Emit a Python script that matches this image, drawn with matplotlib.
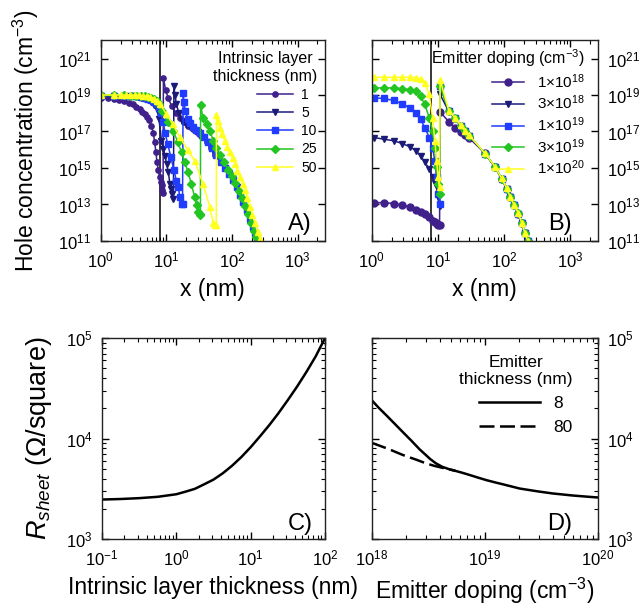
import numpy as np
import matplotlib
matplotlib.use("Agg")
import matplotlib.pyplot as plt
from matplotlib.ticker import FixedLocator, NullLocator, NullFormatter, FuncFormatter

plt.rcParams['font.family'] = ['Liberation Sans', 'DejaVu Sans']
plt.rcParams['mathtext.fontset'] = 'custom'
plt.rcParams['mathtext.rm'] = 'Liberation Sans'
plt.rcParams['mathtext.it'] = 'Liberation Sans:italic'
plt.rcParams['mathtext.bf'] = 'Liberation Sans:bold'

# ---- panel A: hole profile vs intrinsic layer thickness (log10 of cm^-3) ----
a_labels = ['1', '5', '10', '25', '50']
a1_x = [1.0, 1.3, 1.58, 1.9, 2.24, 2.65, 3.1, 3.5, 3.9, 4.3, 4.7, 5.1, 5.5, 5.9, 6.3, 6.6, 6.9, 7.2, 7.5, 7.9,
        8.2, 8.45, 8.7, 8.9, 9.0, 9.7, 10.6, 12.0, 14.0, 16.0, 18.5, 21.5, 25, 29, 34, 41, 48, 56, 67, 78,
        91, 105, 118, 132, 149, 168, 188, 207, 224, 244]
a1_logp = [18.85, 18.82, 18.78, 18.73, 18.66, 18.58, 18.48, 18.36, 18.21, 18.08, 17.94, 17.78, 17.61, 17.3, 16.94,
           16.45, 15.9, 15.3, 14.9, 14.5, 14.25, 14.05, 13.8, 13.63, 19.93, 19.3, 18.85, 18.4, 18.0, 17.75,
           17.5, 17.32, 17.15, 16.98, 16.75, 16.45, 16.1, 15.7, 15.31, 15.0, 14.68, 14.32, 13.95, 13.5, 13.14,
           12.68, 12.23, 11.78, 11.42, 11.05]
a5_x = [1.0, 1.58, 2.24, 2.9, 3.5, 4.1, 4.7, 5.3, 5.9, 6.5, 7.1, 7.7, 8.4, 9.0, 9.5, 10.1, 10.7, 11.3, 11.8, 12.3,
        12.8, 13.0, 13.5, 14.2, 15.5, 17.5, 20, 23, 26.5, 30, 35, 41, 48, 56, 67, 78, 91, 105, 118, 132,
        149, 168, 188, 207, 224, 244]
a5_logp = [18.95, 18.95, 18.94, 18.92, 18.9, 18.86, 18.8, 18.72, 18.62, 18.45, 18.25, 17.7, 16.5, 16.05, 15.67,
           15.2, 14.77, 14.14, 13.85, 13.6, 13.3, 19.48, 19.0, 18.5, 18.0, 17.6, 17.4, 17.22, 17.08, 16.95,
           16.72, 16.45, 16.1, 15.7, 15.31, 15.0, 14.68, 14.32, 13.95, 13.5, 13.14, 12.68, 12.23, 11.78, 11.42, 11.05]
a10_x = [1.0, 1.58, 2.24, 2.9, 3.5, 4.1, 4.7, 5.3, 5.9, 6.5, 7.1, 7.7, 8.3, 9.0, 9.5, 10.5, 11.7, 13.0, 14.2, 15.2,
         16.0, 17.0, 17.6, 18.0, 18.6, 19.5, 21, 23, 25.5, 28.5, 32, 37, 43, 50, 58, 67, 78, 91, 105, 118,
         132, 149, 168, 188, 207, 224, 244]
a10_logp = [18.97, 18.97, 18.96, 18.95, 18.93, 18.9, 18.86, 18.8, 18.72, 18.62, 18.48, 18.3, 18.0, 17.5, 16.94,
            16.3, 15.6, 14.9, 14.3, 13.95, 13.41, 13.05, 13.0, 19.1, 18.6, 18.1, 17.7, 17.45, 17.25, 17.08,
            16.92, 16.7, 16.42, 16.1, 15.72, 15.31, 15.0, 14.68, 14.32, 13.95, 13.5, 13.14, 12.68, 12.23, 11.78,
            11.42, 11.05]
a25_x = [1.0, 1.58, 2.24, 2.9, 3.5, 4.1, 4.7, 5.3, 5.9, 6.5, 7.1, 7.7, 8.6, 10.5, 12.7, 15, 17, 19, 21.5, 24,
         27, 28.8, 30.6, 32, 33, 33.2, 36, 41, 46, 52, 58, 66, 76, 88, 100, 113, 127, 142, 158, 176,
         196, 216, 236, 256]
a25_logp = [18.98, 18.98, 18.98, 18.97, 18.96, 18.95, 18.93, 18.9, 18.85, 18.78, 18.68, 18.5, 18.1, 17.5, 17.03,
            16.4, 15.85, 15.3, 14.77, 14.1, 13.41, 12.96, 12.6, 12.45, 12.41, 18.45, 17.76, 17.4, 17.03, 16.49,
            16.12, 15.7, 15.3, 14.9, 14.55, 14.15, 13.75, 13.35, 12.9, 12.45, 12.0, 11.55, 11.2, 10.95]
a50_x = [1.0, 1.58, 2.0, 2.4, 2.8, 3.3, 3.8, 4.4, 5.0, 5.7, 6.5, 7.3, 8.0, 10, 12.5, 16, 21, 27, 36, 46,
         52, 56, 57.5, 58, 61, 65, 70, 78, 85, 93, 102, 111, 121, 132, 145, 158, 172, 188, 205, 224,
         245, 267]
a50_logp = [19.0, 19.0, 19.0, 19.0, 19.0, 18.99, 18.98, 18.96, 18.93, 18.88, 18.8, 18.68, 18.5, 17.95, 17.4,
            16.7, 16.0, 15.4, 14.14, 12.86, 11.96, 11.88, 11.85, 17.89, 17.55, 17.21, 16.85, 16.49, 16.15, 15.85,
            15.52, 15.22, 14.85, 14.5, 14.12, 13.77, 13.35, 12.86, 12.42, 11.96, 11.5, 11.09]

# ---- panel B: hole profile vs emitter doping ----
b_labels = [r'1$\times$10$^{18}$', r'3$\times$10$^{18}$', r'1$\times$10$^{19}$',
            r'3$\times$10$^{19}$', r'1$\times$10$^{20}$']
b_x = [1.07, 1.52, 2.15, 2.9, 3.77, 4.64, 5.46, 6.35, 7.4, 8.3, 9.0, 9.55, 10.1, 10.6,
       10.8, 14.6, 18.1, 22.2, 25.6, 29.8, 51.5, 73, 92, 110, 123, 141, 165, 185, 206, 228]
b1_logp = [13.1, 13.1, 13.05, 12.96, 12.86, 12.72, 12.59, 12.47, 12.29, 12.12, 12.05, 11.95, 11.87, 11.85,
           18.07, 17.54, 17.21, 16.98, 16.8, 16.64, 15.8, 15.05, 14.41, 13.86, 13.41, 12.96, 12.5, 11.96, 11.42, 11.0]
b3_logp = [16.67, 16.58, 16.49, 16.34, 16.16, 15.95, 15.67, 15.31, 14.95, 14.5, 14.2, 13.95, 13.4, 12.9,
           19.03, 18.1, 17.7, 17.3, 17.0, 16.75, 15.78, 15.05, 14.41, 13.86, 13.41, 12.96, 12.5, 11.96, 11.42, 11.0]
b10_logp = [18.84, 18.81, 18.7, 18.52, 18.3, 18.03, 17.67, 17.21, 16.67, 16.12, 15.4, 14.5, 13.59, 13.05,
            19.48, 18.12, 17.72, 17.31, 17.0, 16.76, 15.78, 15.05, 14.41, 13.86, 13.41, 12.96, 12.5, 11.96, 11.42, 11.0]
b30_logp = [19.39, 19.39, 19.39, 19.35, 19.3, 19.2, 18.93, 18.48, 17.76, 17.03, 16.12, 15.04, 14.14, 13.59,
            19.5, 18.13, 17.73, 17.32, 17.01, 16.77, 15.79, 15.06, 14.42, 13.87, 13.42, 12.97, 12.51, 11.97, 11.43, 11.0]
b100_logp = [19.97, 19.97, 19.97, 19.97, 19.97, 19.95, 19.9, 19.66, 19.03, 17.76, 16.49, 15.4, 14.5, 13.95,
             19.84, 18.15, 17.75, 17.33, 17.02, 16.78, 15.8, 15.07, 14.43, 13.88, 13.43, 12.98, 12.52, 11.98, 11.44, 11.0]

# ---- panel C: sheet resistance (ohm/sq) vs intrinsic thickness (nm) ----
c_t = [0.1, 0.178, 0.316, 0.562, 1.0, 1.33, 1.78, 2.37, 3.16, 4.22, 5.62, 7.5, 10, 13.3, 17.8, 23.7,
       31.6, 42.2, 56.2, 75, 100]
c_r = [2480, 2510, 2560, 2640, 2800, 2970, 3170, 3515, 3910, 4520, 5370, 6550, 8200, 10470, 13580,
       17860, 24040, 32800, 45700, 65300, 98900]

# ---- panel D: sheet resistance vs emitter doping (cm^-3) ----
d_n8 = [1e18, 1.15e18, 1.35e18, 1.6e18, 1.9e18, 2.25e18, 2.66e18, 3.0e18, 3.3e18, 3.7e18, 4.2e18, 4.8e18,
        5.5e18, 6.4e18, 7.4e18, 8.7e18, 1.04e19, 1.25e19, 1.5e19, 2.04e19, 3e19, 4e19, 6e19, 8e19, 1e20]
d_r8 = [24100, 20300, 17000, 14000, 11500, 9500, 7800, 6900, 6250, 5680, 5250, 4980, 4780, 4560, 4340,
        4100, 3860, 3660, 3480, 3190, 2980, 2850, 2720, 2650, 2600]
d_n80 = [1e18, 1.4e18, 1.9e18, 2.5e18, 3.04e18, 3.6e18, 4.2e18, 4.8e18, 5.5e18]
d_r80 = [9080, 7900, 6850, 6150, 5660, 5350, 5130, 4960, 4780]

colors = ['#40208a', '#1c1c78', '#1f3cff', '#22c522', '#ffff20']
markers = ['o', 'v', 's', 'D', '^']

sci = FuncFormatter(lambda v, pos: r'$\mathdefault{10^{%d}}$' % round(np.log10(v)))


def style(ax):
    ax.set_xscale('log')
    ax.set_yscale('log')
    ax.tick_params(which='both', direction='in', top=True, right=True, labelsize=12, pad=7)
    ax.tick_params(which='major', length=5, width=1)
    ax.tick_params(which='minor', length=3, width=0.8)
    for s in ax.spines.values():
        s.set_linewidth(1.0)
        s.set_color('#222222')
    ax.xaxis.set_major_formatter(sci)
    ax.xaxis.set_minor_formatter(NullFormatter())


fig = plt.figure(figsize=(6.42, 6.10), dpi=100)
axA = fig.add_axes([0.157, 0.605, 0.349, 0.329])
axB = fig.add_axes([0.579, 0.605, 0.352, 0.329])
axC = fig.add_axes([0.159, 0.116, 0.347, 0.330])
axD = fig.add_axes([0.579, 0.116, 0.352, 0.330])

# A
a_series = [(a1_x, a1_logp), (a5_x, a5_logp), (a10_x, a10_logp), (a25_x, a25_logp), (a50_x, a50_logp)]
for (x, lp), lab, c, m in zip(a_series, a_labels, colors, markers):
    axA.plot(x, 10 ** np.array(lp), color=c, marker=m, ms=3.8, lw=1.1, label=lab)
axA.axvline(8, color='black', lw=1.1, zorder=1)

# B
b_series = [b1_logp, b3_logp, b10_logp, b30_logp, b100_logp]
b_ms = [5, 4, 4, 4, 4]
for lp, lab, c, m, s in zip(b_series, b_labels, colors, markers, b_ms):
    axB.plot(b_x, 10 ** np.array(lp), color=c, marker=m, ms=s, lw=1.1, label=lab)
axB.axvline(8, color='black', lw=1.1, zorder=1)

for ax in (axA, axB):
    style(ax)
    ax.set_xlim(1, 2600)
    ax.set_ylim(1e11, 1e22)
    ax.yaxis.set_major_locator(FixedLocator([1e11, 1e13, 1e15, 1e17, 1e19, 1e21]))
    ax.yaxis.set_minor_locator(NullLocator())
    ax.yaxis.set_major_formatter(sci)
    ax.set_xlabel('x (nm)', fontsize=16.5, labelpad=5)

axA.set_ylabel('Hole concentration (cm$^{-3}$)', fontsize=16.5, labelpad=12)
axB.tick_params(axis='y', labelleft=False, labelright=True)

legA = axA.legend(title='Intrinsic layer\nthickness (nm)', loc='upper right', bbox_to_anchor=(0.965, 0.945),
                  frameon=False, fontsize=10, title_fontsize=11.5, handlelength=2.6, handletextpad=0.6,
                  labelspacing=0.3, borderaxespad=0, borderpad=0, alignment='right')
legA.get_title().set_multialignment('center')
legB = axB.legend(title='Emitter doping (cm$^{-3}$)', loc='upper right', bbox_to_anchor=(0.942, 0.965),
                  frameon=False, fontsize=11, title_fontsize=11.5, handlelength=2.1, handletextpad=0.8,
                  labelspacing=0.2, borderaxespad=0, borderpad=0, alignment='right')

axA.text(0.942, 0.055, 'A)', transform=axA.transAxes, ha='right', va='baseline', fontsize=17)
axB.text(0.885, 0.055, 'B)', transform=axB.transAxes, ha='right', va='baseline', fontsize=17)

# C
axC.plot(c_t, c_r, color='black', lw=1.8)
axC.set_xlim(0.1, 100)
axC.set_xlabel('Intrinsic layer thickness (nm)', fontsize=16.5, labelpad=5)
axC.set_ylabel(r'$R_{sheet}$ ($\Omega$/square)', fontsize=19.5, labelpad=8)

# D
axD.plot(d_n8, d_r8, color='black', lw=1.8, label='8')
axD.plot(d_n80, d_r80, color='black', lw=1.8, ls=(0, (6, 2.2)), label='80')
axD.set_xlim(1e18, 1e20)
axD.set_xlabel('Emitter doping (cm$^{-3}$)', fontsize=16.5, labelpad=5)
axD.tick_params(axis='y', labelleft=False, labelright=True)
legD = axD.legend(title='Emitter\nthickness (nm)', loc='upper right', bbox_to_anchor=(0.89, 0.915),
                  frameon=False, fontsize=12.5, title_fontsize=12.5, handlelength=3.5, handletextpad=0.8,
                  labelspacing=0.5, borderaxespad=0, borderpad=0, alignment='right')
legD.get_title().set_multialignment('center')

for ax in (axC, axD):
    style(ax)
    ax.set_ylim(1e3, 1e5)
    ax.yaxis.set_major_formatter(sci)
    ax.yaxis.set_minor_formatter(NullFormatter())

axC.text(0.946, 0.045, 'C)', transform=axC.transAxes, ha='right', va='baseline', fontsize=17)
axD.text(0.889, 0.045, 'D)', transform=axD.transAxes, ha='right', va='baseline', fontsize=17)

fig.savefig('out.png', dpi=100)
